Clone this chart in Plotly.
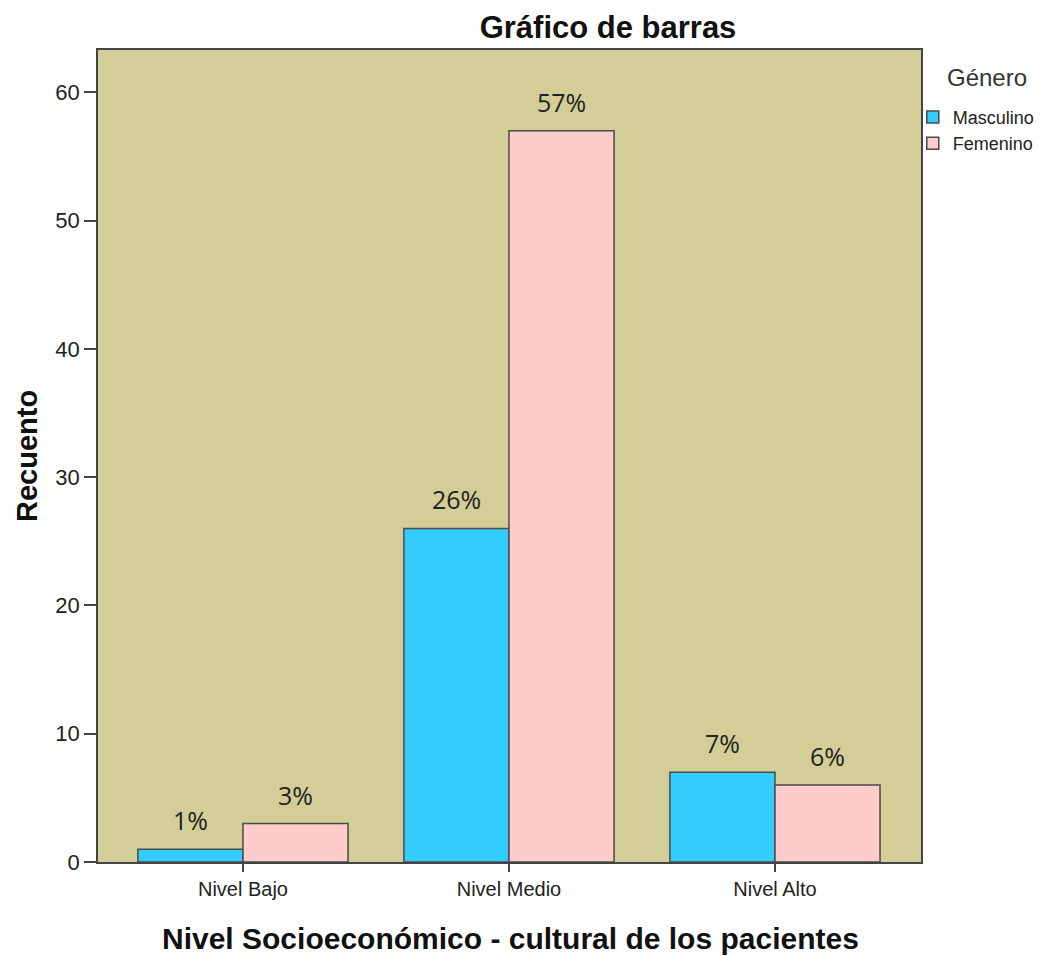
import plotly.graph_objects as go

categories = ["Nivel Bajo", "Nivel Medio", "Nivel Alto"]
masculino = [1, 26, 7]
femenino = [3, 57, 6]
masculino_pct = ["1%", "26%", "7%"]
femenino_pct = ["3%", "57%", "6%"]
y_ticks = [0, 10, 20, 30, 40, 50, 60]

bar_line = dict(color="#4a4a4a", width=1.5)
bargap = 0.21
half = (1 - bargap) / 4  # centre offset of each bar inside its group

fig = go.Figure()
fig.add_trace(go.Bar(
    x=categories, y=masculino, name="Masculino",
    marker=dict(color="#33CCFF", line=bar_line),
    offsetgroup="m"
))
fig.add_trace(go.Bar(
    x=categories, y=femenino, name="Femenino",
    marker=dict(color="#FFCCCC", line=bar_line),
    offsetgroup="f"
))

# percentage labels above each bar
for i, cat in enumerate(categories):
    for val, txt, off in [(masculino[i], masculino_pct[i], -half), (femenino[i], femenino_pct[i], half)]:
        fig.add_annotation(
            x=i + off, y=val, text=txt, showarrow=False,
            yanchor="bottom", yshift=10,
            font=dict(family="Open Sans, Arial, sans-serif", size=25, color="#222")
        )

# page body has an 8px margin, so the figure is a bit smaller than the window
W, H = 1045, 948
L, T, PW, PH = 90, 42, 823, 812

# axis titles as annotations so they can sit where the original puts them
fig.add_annotation(
    text="<b>Recuento</b>", textangle=-90, showarrow=False,
    xref="paper", yref="paper", x=(19 - L) / PW, y=0.5,
    xanchor="center", yanchor="middle",
    font=dict(size=29, color="#111")
)
fig.add_annotation(
    text="<b>Nivel Socioeconómico - cultural de los pacientes</b>", showarrow=False,
    xref="paper", yref="paper", x=(502 - L) / PW, y=(T + PH - 930) / PH,
    xanchor="center", yanchor="middle",
    font=dict(size=30, color="#111")
)
# legend title
fig.add_annotation(
    text="Género", showarrow=False,
    xref="paper", yref="paper", x=(979 - L) / PW, y=(T + PH - 69) / PH,
    xanchor="center", yanchor="middle",
    font=dict(size=24, color="#333")
)

fig.update_layout(
    width=W, height=H,
    margin=dict(l=L, r=W - L - PW, t=T, b=H - T - PH),
    paper_bgcolor="white",
    plot_bgcolor="#D3CE98",
    barmode="group",
    bargap=bargap,
    bargroupgap=0,
    font=dict(family="Liberation Sans, Arial, sans-serif", color="#222"),
    title=dict(text="<b>Gráfico de barras</b>", x=600 / W, xanchor="center",
               y=1 - 19 / H, yanchor="middle", font=dict(size=31, color="#111")),
    legend=dict(
        x=0.99, xanchor="left", y=0.94, yanchor="top",
        font=dict(size=18, color="#222"),
        bgcolor="rgba(0,0,0,0)", tracegroupgap=0, itemwidth=30
    ),
    showlegend=True,
)

fig.update_xaxes(
    range=[-0.545, 2.549],
    showline=True, linecolor="#444", linewidth=1.5, mirror=True,
    ticks="outside", ticklen=8, tickcolor="#444", tickwidth=1.5,
    tickfont=dict(size=20, color="#222"),
    showgrid=False,
)
fig.update_yaxes(
    range=[0, 63.3],
    tickvals=y_ticks,
    showline=True, linecolor="#444", linewidth=1.5, mirror=True,
    ticks="outside", ticklen=12, tickcolor="#444", tickwidth=1.5,
    tickfont=dict(size=22, color="#222"),
    showgrid=False, zeroline=False,
)

fig.write_html("out.html")
